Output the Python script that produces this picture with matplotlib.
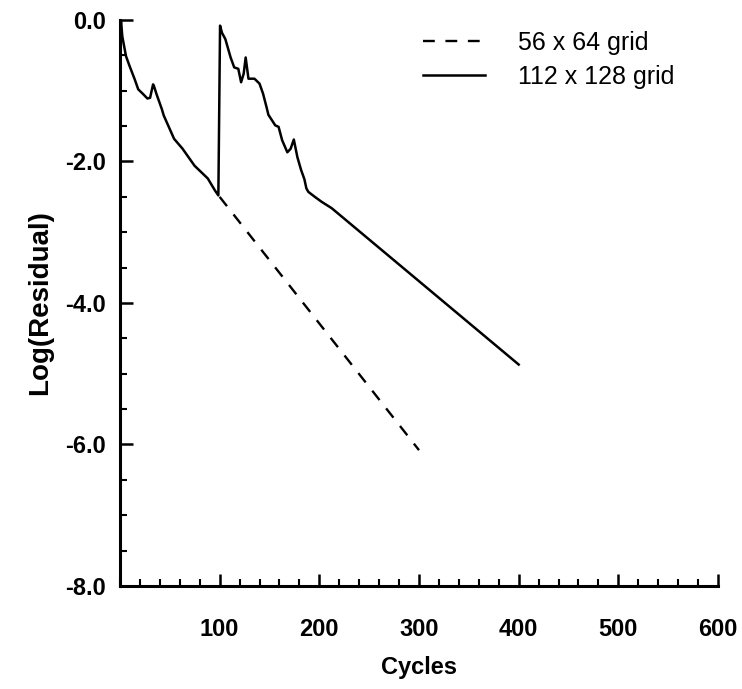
import matplotlib
matplotlib.use('Agg')
import matplotlib.pyplot as plt
from matplotlib.ticker import MultipleLocator, FixedLocator

plt.rcParams['font.family'] = ['Liberation Sans', 'DejaVu Sans']

# 112 x 128 grid (solid)
fine_cycles = [0, 1, 2.3, 6, 9.6, 14.8, 18.3, 23.4, 27.5, 30.2, 33.2, 34, 36.7,
               42, 43.9, 54.3, 62.8, 74.8, 88.1, 95.3, 98.7, 100.4, 102.3,
               105.7, 111, 114.6, 118.7, 121.5, 124.1, 126.1, 128.9, 134.9,
               140, 143.5, 147, 148.9, 155.8, 159.1, 162.7, 167.9, 171.2,
               174.4, 178, 181.7, 185, 187, 189, 195.5, 202.3, 212.4, 400]
fine_resid = [-0.35, 0.0, -0.23, -0.51, -0.65, -0.84, -0.98, -1.05, -1.11,
              -1.10, -0.91, -0.93, -1.05, -1.26, -1.35, -1.68, -1.82, -2.06,
              -2.24, -2.41, -2.48, -0.08, -0.18, -0.27, -0.53, -0.67, -0.69,
              -0.88, -0.76, -0.53, -0.83, -0.83, -0.90, -1.04, -1.23, -1.34,
              -1.49, -1.51, -1.70, -1.87, -1.82, -1.69, -1.94, -2.12, -2.25,
              -2.38, -2.43, -2.50, -2.57, -2.66, -4.87]

# 56 x 64 grid (dashed), continued after cycle 100
coarse_cycles = [100, 200, 300]
coarse_resid = [-2.5, -4.29, -6.08]

x_ticks = [100, 200, 300, 400, 500, 600]
y_ticks = [-8, -6, -4, -2, 0]
y_labels = ['-8.0', '-6.0', '-4.0', '-2.0', '0.0']

fig = plt.figure(figsize=(7.42, 6.89), dpi=100)
ax = fig.add_axes([0.1617, 0.1495, 0.806, 0.8215])

ax.plot(coarse_cycles, coarse_resid, color='black', lw=1.7,
        linestyle=(0, (5, 4.5)), label='56 x 64 grid')
ax.plot(fine_cycles, fine_resid, color='black', lw=1.8, label='112 x 128 grid')

ax.set_xlim(0, 600)
ax.set_ylim(-8, 0)

for side in ['top', 'right']:
    ax.spines[side].set_visible(False)
for side in ['left', 'bottom']:
    ax.spines[side].set_linewidth(2.2)

ax.xaxis.set_major_locator(FixedLocator(x_ticks))
ax.xaxis.set_minor_locator(MultipleLocator(20))
ax.yaxis.set_major_locator(FixedLocator(y_ticks))
ax.yaxis.set_minor_locator(MultipleLocator(0.5))
ax.set_yticklabels(y_labels)

ax.tick_params(axis='both', which='major', direction='in', length=9,
               width=1.8, labelsize=17)
ax.tick_params(axis='both', which='minor', direction='in', length=5,
               width=1.5)
ax.tick_params(axis='x', which='major', pad=23)
ax.tick_params(axis='y', which='major', pad=10)
for lab in ax.get_xticklabels() + ax.get_yticklabels():
    lab.set_fontweight('bold')

ax.set_xlabel('Cycles', fontsize=17, fontweight='bold', labelpad=11)
ax.set_ylabel('Log(Residual)', fontsize=20, fontweight='bold', labelpad=9)

ax.legend(loc='upper left', bbox_to_anchor=(0.570, 0.955),
          bbox_transform=fig.transFigure, frameon=False, fontsize=18,
          handlelength=2.5, handletextpad=1.3, labelspacing=0.38,
          borderpad=0, borderaxespad=0)

fig.savefig('out.png', dpi=100, facecolor='white')
